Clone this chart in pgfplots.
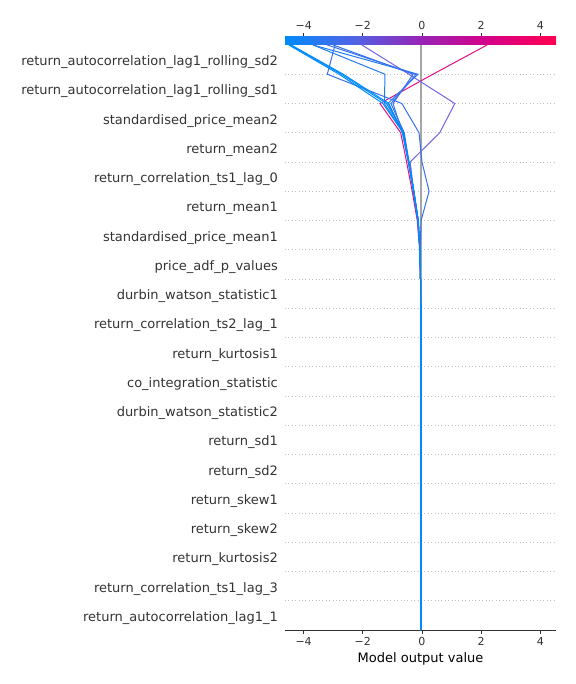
\documentclass[border=0pt]{standalone}
\usepackage{pgfplots}
\pgfplotsset{compat=1.18}
\usepackage{fontspec}
\setmainfont{DejaVu Sans}
\definecolor{txt}{RGB}{51,51,51}
\definecolor{blueA}{RGB}{0,139,251}
\definecolor{blueB}{RGB}{33,123,242}
\definecolor{blueC}{RGB}{53,113,237}
\definecolor{purpleL}{RGB}{115,100,232}
\definecolor{pinkL}{RGB}{228,15,130}
\definecolor{gridc}{RGB}{190,190,190}
\definecolor{basec}{RGB}{165,165,165}
\pgfdeclarehorizontalshading{shapcb}{100bp}{rgb(0bp)=(0,0.545,0.984); rgb(25bp)=(0,0.545,0.984); rgb(37.5bp)=(0.31,0.39,0.9); rgb(50bp)=(0.59,0.14,0.71); rgb(62.5bp)=(0.84,0,0.53); rgb(75bp)=(1,0,0.318); rgb(100bp)=(1,0,0.318)}
\begin{document}
\begin{tikzpicture}
\path[use as bounding box] (0,0) rectangle (576bp,684bp);
\begin{axis}[
  at={(285bp,54bp)}, anchor=south west, scale only axis,
  width=271bp, height=585bp,
  xmin=-4.63, xmax=4.53, ymin=0, ymax=20,
  axis x line*=bottom, axis y line*=left,
  y axis line style={draw=none},
  x axis line style={txt, line width=0.8bp, -},
  xtick={-4,-2,0,2,4},
  xticklabels={−4,−2,0,2,4},
  ytick={0.5,1.5,...,19.5},
  yticklabels={return\_autocorrelation\_lag1\_1,
    return\_correlation\_ts1\_lag\_3,
    return\_kurtosis2,
    return\_skew2,
    return\_skew1,
    return\_sd2,
    return\_sd1,
    durbin\_watson\_statistic2,
    co\_integration\_statistic,
    return\_kurtosis1,
    return\_correlation\_ts2\_lag\_1,
    durbin\_watson\_statistic1,
    price\_adf\_p\_values,
    standardised\_price\_mean1,
    return\_mean1,
    return\_correlation\_ts1\_lag\_0,
    return\_mean2,
    standardised\_price\_mean2,
    return\_autocorrelation\_lag1\_rolling\_sd1,
    return\_autocorrelation\_lag1\_rolling\_sd2},
  ytick style={draw=none},
  xtick style={txt, line width=0.8bp},
  tick align=outside, major tick length=3.5bp,
  x tick label style={font=\fontsize{11bp}{13bp}\selectfont, text=txt},
  y tick label style={font=\fontsize{13bp}{15bp}\selectfont, text=txt, inner xsep=0pt, xshift=-3.5bp, yshift=-2.5bp},
  xlabel={Model output value},
  xlabel style={font=\fontsize{13bp}{15bp}\selectfont, text=black},
  clip=false,
]
\pgfplotsinvokeforeach{1,...,19}{
  \addplot[gridc, line width=0.8bp, dash pattern=on 0.8bp off 2.6bp, forget plot] coordinates {(-4.63,#1) (4.53,#1)};
}
\addplot[basec, line width=2bp] coordinates {(-0.04,0) (-0.04,20)};
% pink
\addplot[pinkL, line width=1bp] coordinates {(-0.04,0) (-0.04,11) (-0.05,12) (-0.08,13) (-0.16,14) (-0.33,15) (-0.52,16) (-0.72,17) (-1.42,18) (0.37,19) (2.2,20)};
% purple
\addplot[purpleL, line width=1bp] coordinates {(-0.04,0) (-0.04,11) (-0.05,12) (-0.07,13) (-0.13,14) (-0.28,15) (-0.40,16) (0.6,17) (1.11,18) (-0.44,19) (-2.03,20)};
% thin blue with bulge
\addplot[blueC, line width=1bp] coordinates {(-0.04,0) (-0.04,11) (-0.05,12) (-0.06,13) (-0.03,14) (0.24,15) (0.0,16) (-0.1,17) (-0.68,18) (-3.2,19) (-2.94,20)};
% upper group
\addplot[blueB, line width=1bp] coordinates {(-0.04,0) (-0.04,11) (-0.05,12) (-0.07,13) (-0.13,14) (-0.28,15) (-0.45,16) (-0.62,17) (-1.15,18) (-0.14,19) (-3.68,20)};
\addplot[blueC, line width=1bp] coordinates {(-0.04,0) (-0.04,11) (-0.05,12) (-0.07,13) (-0.13,14) (-0.28,15) (-0.44,16) (-0.60,17) (-1.05,18) (-0.2,19) (-3.2,20)};
\addplot[blueC, line width=1bp] coordinates {(-0.04,0) (-0.04,11) (-0.05,12) (-0.07,13) (-0.14,14) (-0.29,15) (-0.46,16) (-0.66,17) (-0.98,18) (-0.3,19) (-3.0,20)};
\addplot[blueB, line width=1bp] coordinates {(-0.04,0) (-0.04,11) (-0.05,12) (-0.07,13) (-0.13,14) (-0.28,15) (-0.45,16) (-0.64,17) (-1.27,18) (-1.25,19) (-3.68,20)};
% thick bundle
\addplot[blueA, line width=1bp] coordinates {(-0.04,0) (-0.04,11) (-0.05,12) (-0.07,13) (-0.13,14) (-0.28,15) (-0.45,16) (-0.64,17) (-1.32,18) (-2.8,19) (-4.5,20)};
\addplot[blueA, line width=1bp] coordinates {(-0.04,0) (-0.04,11) (-0.05,12) (-0.07,13) (-0.12,14) (-0.27,15) (-0.44,16) (-0.62,17) (-1.2,18) (-2.72,19) (-4.46,20)};
\addplot[blueA, line width=1bp] coordinates {(-0.04,0) (-0.04,11) (-0.05,12) (-0.07,13) (-0.14,14) (-0.29,15) (-0.46,16) (-0.66,17) (-1.12,18) (-2.66,19) (-4.42,20)};
\end{axis}
\begin{axis}[
  at={(285bp,639.5bp)}, anchor=south west, scale only axis,
  width=271bp, height=7.5bp,
  xmin=-4.63, xmax=4.53, ymin=0, ymax=1,
  axis x line*=top, axis y line=none,
  x axis line style={draw=none},
  xtick={-4,-2,0,2,4},
  xticklabels={−4,−2,0,2,4},
  tick align=outside, major tick length=4bp,
  xtick style={txt, line width=0.8bp},
  x tick label style={font=\fontsize{11bp}{13bp}\selectfont, text=txt},
]
\path[shading=shapcb] (axis cs:-4.63,0) rectangle (axis cs:4.53,1);
\end{axis}
\end{tikzpicture}
\end{document}
